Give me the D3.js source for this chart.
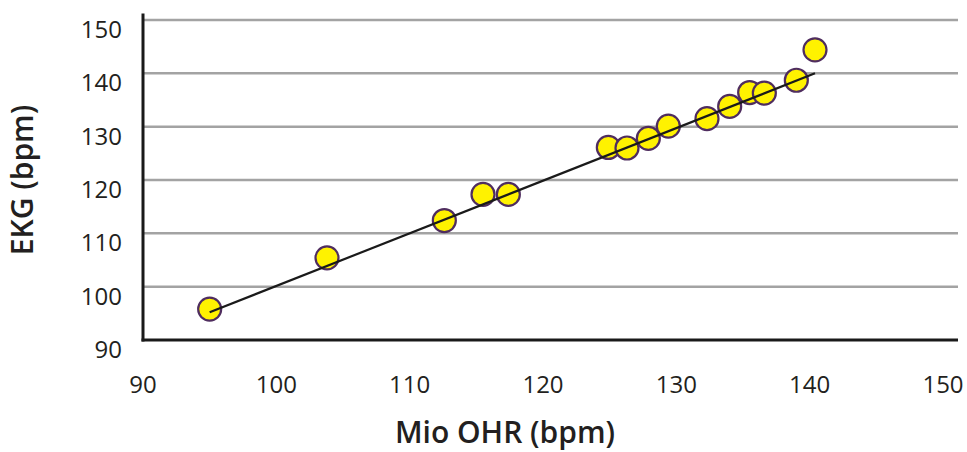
<!DOCTYPE html>
<html>
<head>
<meta charset="utf-8">
<script src="https://cdn.jsdelivr.net/npm/d3@7"></script>
<style>
  body { margin: 0; background: #fff; }
  text { font-family: "Open Sans", "Lato", sans-serif; }
</style>
</head>
<body>
<div id="chart"></div>
<script>
// Mio OHR vs EKG readings (bpm)
var ohr = [95.0, 103.8, 112.6, 115.5, 117.4, 124.9, 126.3, 127.9, 129.4, 132.3, 134.0, 135.5, 136.6, 139.0, 140.4];
var ekg = [95.8, 105.4, 112.4, 117.3, 117.3, 126.1, 126.0, 127.8, 130.1, 131.5, 133.8, 136.4, 136.3, 138.7, 144.4];

// fit line end points
var fitX = [95.0, 140.4];
var fitY = [95.2, 140.0];

var xTicks = [90, 100, 110, 120, 130, 140, 150];
var yTicks = [90, 100, 110, 120, 130, 140, 150];

var width = 967, height = 452;

var svg = d3.select('#chart')
  .append('svg')
    .attr('width', width)
    .attr('height', height);

var x = d3.scaleLinear().domain([90, 150]).range([143, 943]);
var y = d3.scaleLinear().domain([90, 150]).range([340, 20]);

var axisRight = 958;

// gridlines
svg.append('g')
  .selectAll('line')
  .data(yTicks.slice(1)).enter()
  .append('line')
    .attr('x1', x(90))
    .attr('x2', axisRight)
    .attr('y1', function(d) { return y(d); })
    .attr('y2', function(d) { return y(d); })
    .attr('stroke', '#a3a3a3')
    .attr('stroke-width', 2.5);

// axis lines
svg.append('line')
  .attr('x1', x(90)).attr('x2', x(90))
  .attr('y1', y(151.2)).attr('y2', y(90) + 1.5)
  .attr('stroke', '#1a1a1a')
  .attr('stroke-width', 3);

svg.append('line')
  .attr('x1', x(90) - 1.5).attr('x2', axisRight)
  .attr('y1', y(90)).attr('y2', y(90))
  .attr('stroke', '#1a1a1a')
  .attr('stroke-width', 3);

// tick labels
svg.append('g')
  .selectAll('text')
  .data(yTicks).enter()
  .append('text')
    .attr('x', 122)
    .attr('y', function(d) { return y(d) + 18; })
    .attr('text-anchor', 'end')
    .attr('font-size', 24)
    .attr('fill', '#231f20')
    .text(function(d) { return d; });

svg.append('g')
  .selectAll('text')
  .data(xTicks).enter()
  .append('text')
    .attr('x', function(d) { return x(d); })
    .attr('y', 393)
    .attr('text-anchor', 'middle')
    .attr('font-size', 24)
    .attr('fill', '#231f20')
    .text(function(d) { return d; });

// axis titles
svg.append('text')
  .attr('x', 505)
  .attr('y', 443)
  .attr('text-anchor', 'middle')
  .attr('font-size', 30)
  .attr('font-weight', 600)
  .attr('fill', '#231f20')
  .text('Mio OHR (bpm)');

svg.append('text')
  .attr('transform', 'translate(33,180) rotate(-90)')
  .attr('text-anchor', 'middle')
  .attr('font-size', 30)
  .attr('font-weight', 600)
  .attr('fill', '#231f20')
  .text('EKG (bpm)');

// points
svg.append('g')
  .selectAll('circle')
  .data(ohr).enter()
  .append('circle')
    .attr('cx', function(d) { return x(d); })
    .attr('cy', function(d, i) { return y(ekg[i]); })
    .attr('r', 11.5)
    .attr('fill', '#fff200')
    .attr('stroke', '#4f2d5f')
    .attr('stroke-width', 2.2);

// fit line
svg.append('line')
  .attr('x1', x(fitX[0])).attr('y1', y(fitY[0]))
  .attr('x2', x(fitX[1])).attr('y2', y(fitY[1]))
  .attr('stroke', '#1a1a1a')
  .attr('stroke-width', 2.2);
</script>
</body>
</html>
